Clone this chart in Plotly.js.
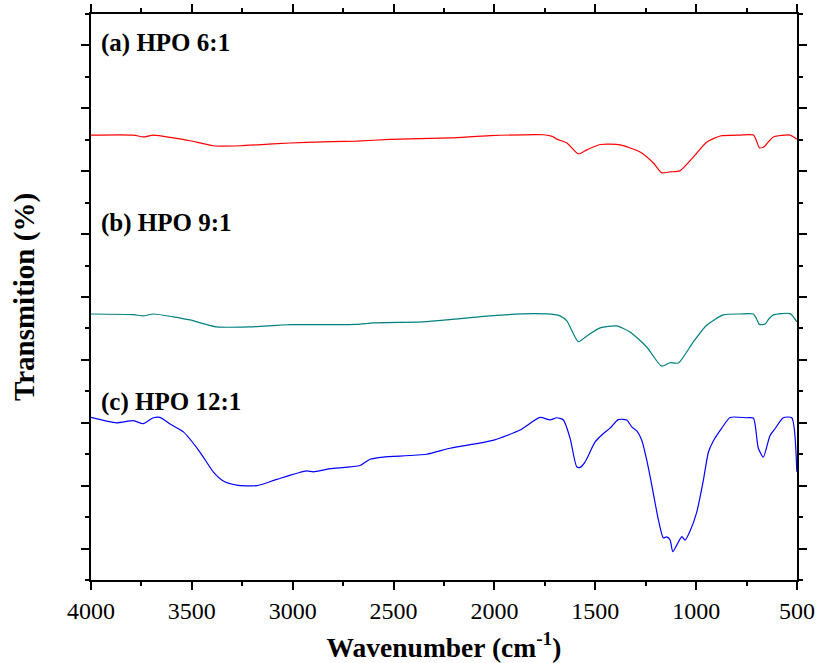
<!DOCTYPE html>
<html>
<head>
<meta charset="utf-8">
<script src="https://cdn.plot.ly/plotly-3.0.1.min.js"></script>
<style>html,body{margin:0;padding:0;background:#fff;}#chart{width:817px;height:663px;}</style>
</head>
<body>
<div id="chart"></div>
<script>
// Wavenumber (cm-1) and stacked transmission (arbitrary offset units)
const wnA = [4000,3790,3741,3691,3592,3509,3394,3261,3098,2931,2683,2518,2220,2022,1757,1710,1691,1641,1584,1542,1476,1377,1278,1212,1171,1130,1081,1014,947,881,782,716,700,687,667,640,617,534,501];
const tA  = [14.15,14.15,14.09,14.15,14.06,13.97,13.81,13.81,13.87,13.92,13.96,14.01,14.06,14.13,14.16,14.10,14.02,13.90,13.55,13.68,13.85,13.84,13.61,13.26,12.95,12.98,13.01,13.45,13.93,14.12,14.15,14.15,13.95,13.75,13.76,13.95,14.09,14.15,14.02];

const wnB = [4000,3790,3741,3691,3592,3509,3377,3212,3013,2683,2600,2352,2220,2022,1807,1700,1675,1641,1584,1542,1476,1394,1328,1245,1171,1130,1088,1014,947,865,782,716,700,687,658,640,617,534,501];
const tB  = [8.46,8.44,8.40,8.46,8.37,8.27,8.05,8.05,8.12,8.13,8.18,8.21,8.28,8.40,8.47,8.44,8.40,8.24,7.58,7.76,8.02,8.08,7.89,7.41,6.80,6.91,6.90,7.57,8.11,8.43,8.46,8.46,8.30,8.13,8.14,8.30,8.43,8.47,8.21];

const wnC = [4000,3873,3790,3741,3691,3658,3608,3542,3460,3394,3344,3278,3178,3079,2931,2898,2815,2666,2617,2551,2336,2220,2002,1873,1774,1724,1691,1658,1625,1592,1576,1551,1501,1468,1427,1386,1344,1319,1294,1270,1245,1220,1187,1163,1146,1129,1116,1096,1071,1055,1030,997,964,939,915,873,832,749,716,692,667,634,609,568,526,501];
const tC  = [5.17,5.00,5.07,4.97,5.16,5.17,4.96,4.71,4.07,3.44,3.15,3.02,3.00,3.20,3.47,3.44,3.54,3.64,3.84,3.91,4.00,4.19,4.45,4.77,5.17,5.09,5.16,5.09,4.51,3.60,3.58,3.75,4.39,4.61,4.83,5.10,5.09,4.87,4.74,4.45,3.82,3.02,1.91,1.34,1.37,1.27,0.90,1.11,1.38,1.27,1.56,2.16,3.18,4.07,4.42,4.83,5.17,5.16,5.15,4.20,3.91,4.59,4.81,5.16,5.16,3.44];

const labels = ["(a) HPO 6:1", "(b) HPO 9:1", "(c) HPO 12:1"];
const labelY = [17.08, 11.35, 5.66];
const xTicks = [4000,3500,3000,2500,2000,1500,1000,500];

const serif = "Liberation Serif";

const lineStyle = (c) => ({color: c, width: 1.2, shape: "spline", smoothing: 0.6});
const traces = [
  {x: wnA, y: tA, mode: "lines", line: lineStyle("#ff0000"), name: labels[0]},
  {x: wnB, y: tB, mode: "lines", line: lineStyle("#008080"), name: labels[1]},
  {x: wnC, y: tC, mode: "lines", line: lineStyle("#0000ff"), name: labels[2]}
];

const annotations = labels.map((t, i) => ({
  text: "<b>" + t + "</b>", x: 3962, y: labelY[i], xref: "x", yref: "y",
  xanchor: "left", yanchor: "middle", showarrow: false,
  font: {family: serif, size: 25, color: "#000"}
}));

const layout = {
  width: 817, height: 663,
  margin: {l: 91, r: 20, t: 14, b: 83},
  paper_bgcolor: "#fff", plot_bgcolor: "#fff",
  font: {family: serif, color: "#000"},
  showlegend: false,
  xaxis: {
    range: [4000, 500], autorange: false,
    tickmode: "array", tickvals: xTicks, ticktext: xTicks.map(String),
    ticks: "outside", ticklen: 8, tickwidth: 2, tickcolor: "#000",
    minor: {dtick: 250, tick0: 0, ticks: "outside", ticklen: 4, tickwidth: 2, tickcolor: "#000", showgrid: false},
    showline: true, linecolor: "#000", linewidth: 2, mirror: "ticks",
    showgrid: false, zeroline: false,
    tickfont: {family: serif, size: 24, color: "#000"},
    title: {text: "<b>Wavenumber (cm<sup>-1</sup>)</b>", font: {family: serif, size: 27.5, color: "#000"}, standoff: 18}
  },
  yaxis: {
    range: [0, 18], autorange: false,
    tick0: 1, dtick: 2,
    ticks: "outside", ticklen: 8, tickwidth: 2, tickcolor: "#000",
    minor: {dtick: 1, tick0: 0, ticks: "outside", ticklen: 4, tickwidth: 2, tickcolor: "#000", showgrid: false},
    showticklabels: false,
    showline: true, linecolor: "#000", linewidth: 2, mirror: "ticks",
    showgrid: false, zeroline: false,
    title: {text: "<b>Transmition (%)</b>", font: {family: serif, size: 29, color: "#000"}, standoff: 38}
  },
  annotations: annotations
};

Plotly.newPlot("chart", traces, layout, {displayModeBar: false, staticPlot: true});
</script>
</body>
</html>
